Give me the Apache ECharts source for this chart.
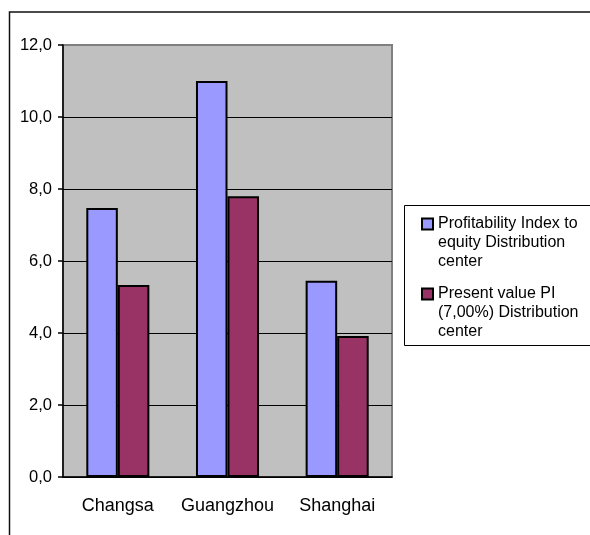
<!DOCTYPE html>
<html>
<head>
<meta charset="utf-8">
<script src="https://cdn.jsdelivr.net/npm/echarts@6/dist/echarts.min.js"></script>
<style>
html, body { margin: 0; padding: 0; background: #fff; }
#chart { width: 590px; height: 535px; }
</style>
</head>
<body>
<div id="chart"></div>
<script>
// data
const cities = ['Changsa', 'Guangzhou', 'Shanghai'];
const profitabilityIndex = [7.47, 11.0, 5.45];
const presentValuePI = [5.33, 7.8, 3.92];
const seriesNames = [
  'Profitability Index to\nequity Distribution\ncenter',
  'Present value PI\n(7,00%) Distribution\ncenter'
];
const yMin = 0, yMax = 12, yStep = 2;

const chart = echarts.init(document.getElementById('chart'));
const font = 'Arial, "Liberation Sans", sans-serif';

const option = {
  animation: false,
  backgroundColor: '#fff',
  grid: {
    left: 63, right: 198, top: 45, bottom: 58,
    show: true,
    backgroundColor: '#c0c0c0',
    borderColor: '#808080',
    borderWidth: 2
  },
  graphic: [
    { type: 'rect', shape: { x: 9.5, y: 12, width: 620, height: 600 },
      style: { fill: 'none', stroke: '#111', lineWidth: 1.5 }, silent: true },
    { type: 'rect', shape: { x: 404.5, y: 205.5, width: 220, height: 140 },
      style: { fill: '#fff', stroke: '#000', lineWidth: 1 }, silent: true, z: -1 }
  ],
  legend: {
    orient: 'vertical',
    left: 421,
    top: 176.5,
    padding: 0,
    icon: 'rect',
    itemWidth: 11,
    itemHeight: 11,
    itemGap: -25,
    selectedMode: false,
    data: seriesNames,
    // two blank lines on top so the icon sits beside the first line
    formatter: name => '\n\n' + name,
    textStyle: {
      fontFamily: font,
      fontSize: 16,
      lineHeight: 19,
      color: '#000'
    }
  },
  xAxis: {
    type: 'category',
    data: cities,
    axisLine: { lineStyle: { color: '#000', width: 1.5 } },
    axisTick: { length: 5, lineStyle: { color: '#000', width: 1.5 } },
    axisLabel: { fontFamily: font, fontSize: 18, color: '#000', margin: 20, interval: 0 }
  },
  yAxis: {
    type: 'value',
    min: yMin, max: yMax, interval: yStep,
    axisLine: { show: true, lineStyle: { color: '#000', width: 1.5 } },
    axisTick: { show: true, length: 5, lineStyle: { color: '#000', width: 1.5 } },
    axisLabel: {
      fontFamily: font, fontSize: 16.5, color: '#000', margin: 11,
      formatter: v => v.toFixed(1).replace('.', ',')
    },
    splitLine: {
      lineStyle: {
        color: ['#000', '#000', '#000', '#000', '#000', '#000', '#808080'],
        width: 1
      }
    }
  },
  series: [
    {
      name: seriesNames[0],
      type: 'bar',
      data: profitabilityIndex,
      barGap: '0%',
      barCategoryGap: '42.5%',
      itemStyle: { color: '#9999ff', borderColor: '#000', borderWidth: 2 }
    },
    {
      name: seriesNames[1],
      type: 'bar',
      data: presentValuePI,
      barGap: '0%',
      barCategoryGap: '42.5%',
      itemStyle: { color: '#993366', borderColor: '#000', borderWidth: 2 }
    }
  ]
};

chart.setOption(option);
</script>
</body>
</html>
